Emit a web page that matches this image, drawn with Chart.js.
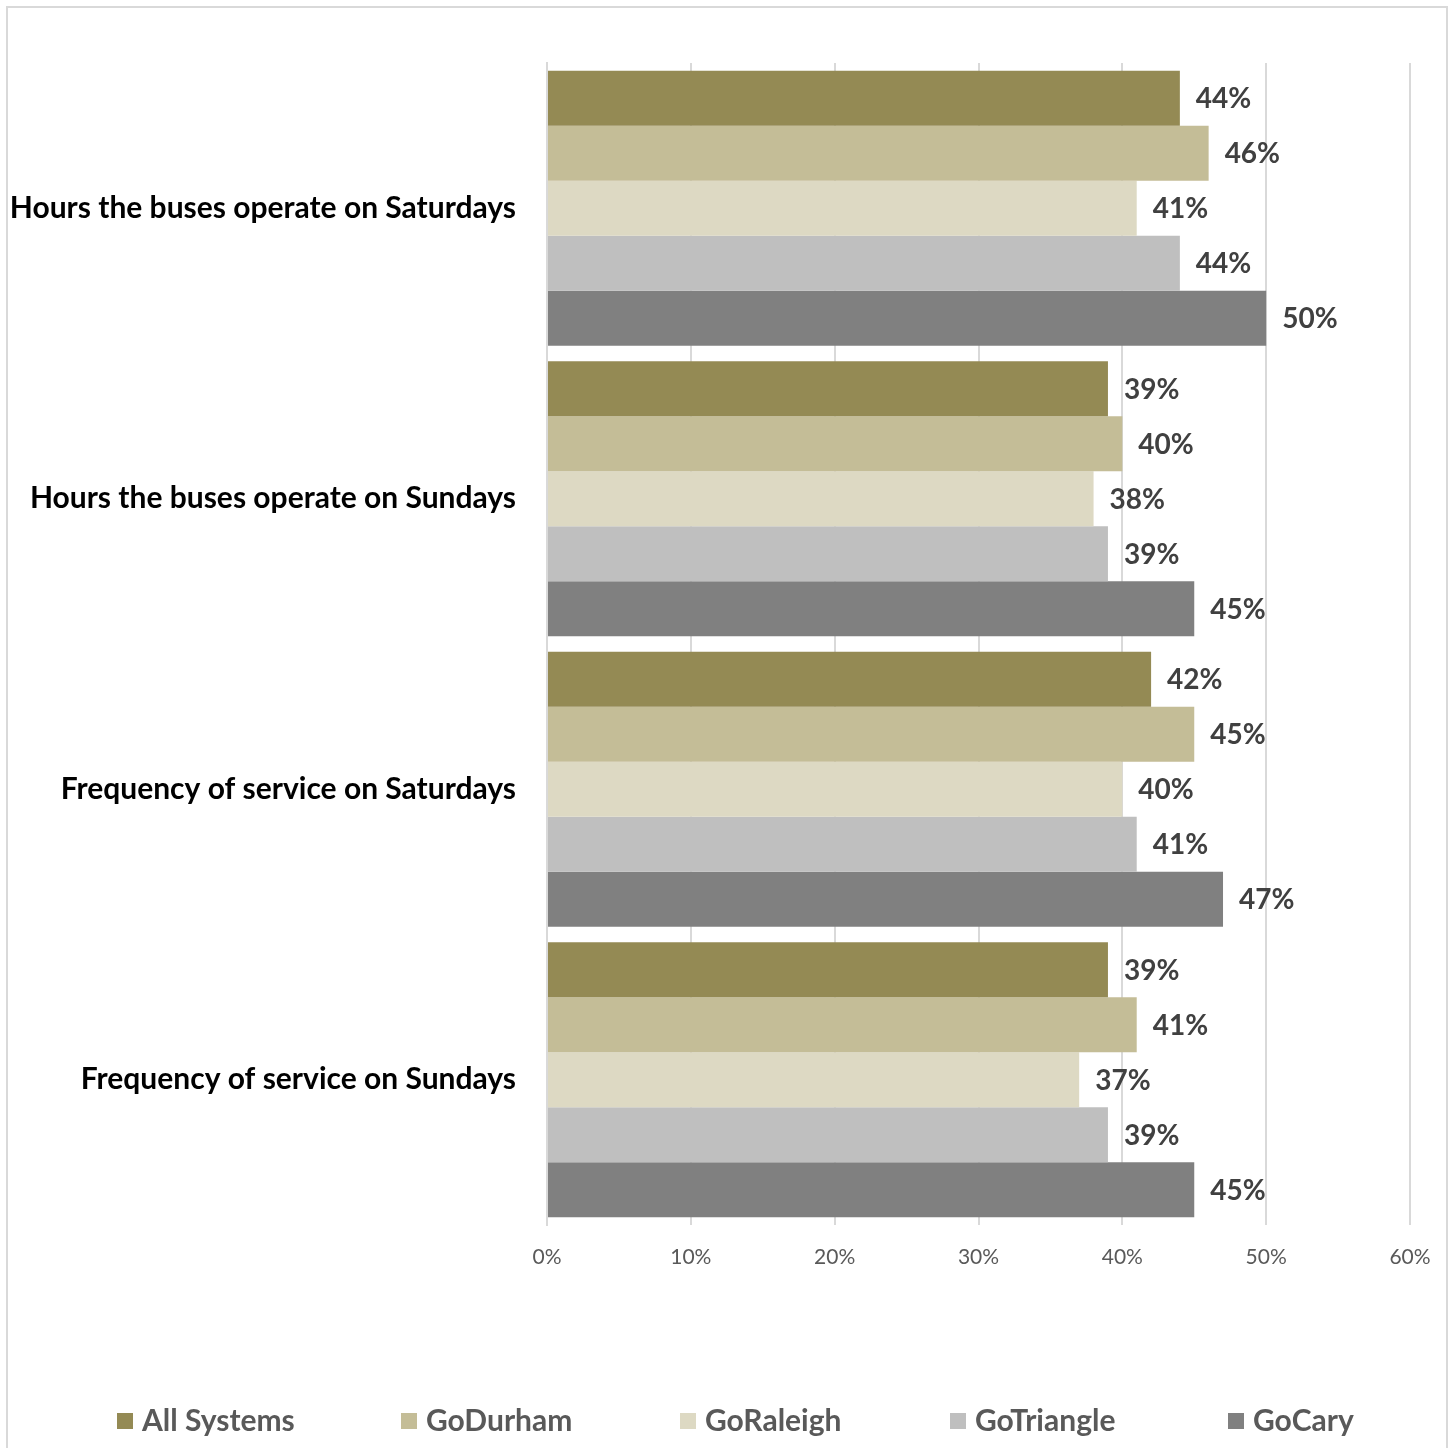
<!DOCTYPE html>
<html>
<head>
<meta charset="utf-8">
<script src="https://cdn.jsdelivr.net/npm/chart.js@4"></script>
<style>
  html, body { margin: 0; padding: 0; background: #fff; }
  #wrap { width: 1453px; height: 1448px; }
</style>
</head>
<body>
<div id="wrap"><canvas id="serviceChart" width="1453" height="1448"></canvas></div>
<script>
// categorias e valores (%)
const categories = [
    'Hours the buses operate on Saturdays',
    'Hours the buses operate on Sundays',
    'Frequency of service on Saturdays',
    'Frequency of service on Sundays'
];
const seriesNames = ['All Systems', 'GoDurham', 'GoRaleigh', 'GoTriangle', 'GoCary'];
const allSystems = [44, 39, 42, 39];
const goDurham   = [46, 40, 45, 41];
const goRaleigh  = [41, 38, 40, 37];
const goTriangle = [44, 39, 41, 39];
const goCary     = [50, 45, 47, 45];
const tickValues = [0, 10, 20, 30, 40, 50, 60];

const seriesColors = ['#948A54', '#C4BD97', '#DDD9C3', '#BFBFBF', '#808080'];
const fontFamily = 'Lato, "Open Sans", sans-serif';

// moldura cinza em volta do gráfico
const framePlugin = {
    id: 'frame',
    beforeDraw(chart) {
        const ctx = chart.ctx;
        ctx.save();
        ctx.strokeStyle = '#D9D9D9';
        ctx.lineWidth = 2;
        ctx.strokeRect(7, 7, 1440, 1460);
        ctx.restore();
    }
};

// rótulos de valor ao lado de cada barra
const valueLabels = {
    id: 'valueLabels',
    afterDatasetsDraw(chart) {
        const ctx = chart.ctx;
        ctx.save();
        ctx.font = 'bold 28px ' + fontFamily;
        ctx.fillStyle = '#404040';
        ctx.textAlign = 'left';
        ctx.textBaseline = 'middle';
        chart.data.datasets.forEach((ds, i) => {
            chart.getDatasetMeta(i).data.forEach((bar, j) => {
                ctx.fillText(ds.data[j] + '%', bar.x + 16, bar.y + 1);
            });
        });
        ctx.restore();
    }
};

// legenda com espaçamento fixo, como no Excel
const legendX = [117, 401, 680, 950, 1228];
const bottomLegend = {
    id: 'bottomLegend',
    afterDraw(chart) {
        const ctx = chart.ctx;
        const y = 1421;
        ctx.save();
        ctx.font = 'bold 30px ' + fontFamily;
        ctx.textBaseline = 'middle';
        ctx.textAlign = 'left';
        chart.data.datasets.forEach((ds, i) => {
            const x = legendX[i];
            ctx.fillStyle = ds.backgroundColor;
            ctx.fillRect(x, y - 8, 16, 16);
            ctx.fillStyle = '#595959';
            ctx.fillText(ds.label, x + 25, y);
        });
        ctx.restore();
    }
};

const seriesData = [allSystems, goDurham, goRaleigh, goTriangle, goCary];

const ctx = document.getElementById('serviceChart').getContext('2d');
const chart = new Chart(ctx, {
    type: 'bar',
    data: {
        labels: categories,
        datasets: seriesNames.map((name, i) => ({
            label: name,
            data: seriesData[i],
            backgroundColor: seriesColors[i],
            borderWidth: 0,
            categoryPercentage: 0.947,
            barPercentage: 1.0
        }))
    },
    options: {
        indexAxis: 'y',
        responsive: false,
        animation: false,
        layout: {
            padding: { top: 63, right: 43, bottom: 0, left: 0 }
        },
        plugins: {
            legend: { display: false },
            tooltip: { enabled: false }
        },
        scales: {
            x: {
                min: 0,
                max: 60,
                afterBuildTicks(axis) {
                    axis.ticks = tickValues.map(v => ({ value: v }));
                },
                afterFit(axis) { axis.height = 223; },
                ticks: {
                    callback: v => v + '%',
                    color: '#595959',
                    font: { family: fontFamily, size: 21 },
                    padding: 20
                },
                grid: {
                    color: '#D9D9D9',
                    lineWidth: 2,
                    tickLength: 0
                },
                border: { display: false }
            },
            y: {
                afterFit(axis) { axis.width = 547; },
                ticks: {
                    color: '#000000',
                    font: { family: fontFamily, size: 30, weight: 'bold' },
                    padding: 23
                },
                grid: { display: false },
                border: { color: '#D9D9D9', width: 2 }
            }
        }
    },
    plugins: [framePlugin, valueLabels, bottomLegend]
});
</script>
</body>
</html>
